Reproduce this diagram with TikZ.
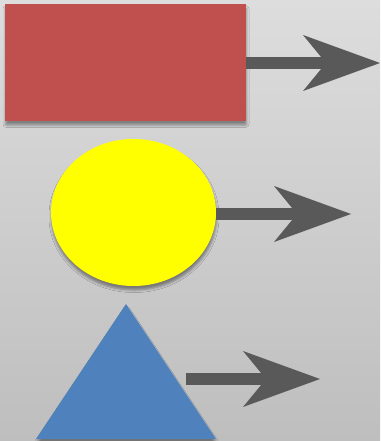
\documentclass[tikz,border=0pt]{standalone}
\usetikzlibrary{arrows.meta,shadows.blur,shapes.geometric}
\definecolor{boxred}{HTML}{C0504D}
\definecolor{ellyellow}{HTML}{FFFF00}
\definecolor{triblue}{HTML}{4F81BD}
\definecolor{arrowgray}{HTML}{595959}
\definecolor{bgtop}{HTML}{DDDDDD}
\definecolor{bgbot}{HTML}{BEBEBE}
\tikzset{
  softshadow/.style={blur shadow={shadow xshift=0.5pt, shadow yshift=-4pt, shadow blur radius=2.5pt, shadow blur extra rounding=1pt, shadow opacity=40}},
  blockarrow/.style={draw=arrowgray, line width=12pt,
    -{Stealth[length=77pt, width=56pt, inset=23pt, line width=0pt, fill=arrowgray]}},
}
\begin{document}
\begin{tikzpicture}[x=1pt, y=-1pt]
  \useasboundingbox (0,0) rectangle (380,441);
  \shade[top color=bgtop, bottom color=bgbot] (0,0) rectangle (380,441);
  \node[draw=none, fill=boxred, minimum width=241pt, minimum height=117pt, inner sep=0pt, softshadow] (box) at (125.5,62.5) {};
  \node[ellipse, draw=none, fill=ellyellow, minimum width=165pt, minimum height=147pt, inner sep=0pt, softshadow] (ell) at (133.5,212.5) {};
  \coordinate (t1) at (126,304);
  \coordinate (t2) at (216,439);
  \coordinate (t3) at (36,439);
  \fill[triblue, softshadow] (t1) -- (t2) -- (t3) -- cycle;
  \coordinate (a1) at (380,63);
  \coordinate (a2) at (351,214);
  \coordinate (s3) at (186,379);
  \coordinate (a3) at (320,379);
  \draw[blockarrow] (box.east |- a1) -- (a1);
  \draw[blockarrow] (ell.east |- a2) -- (a2);
  \draw[blockarrow] (s3) -- (a3);
\end{tikzpicture}
\end{document}
